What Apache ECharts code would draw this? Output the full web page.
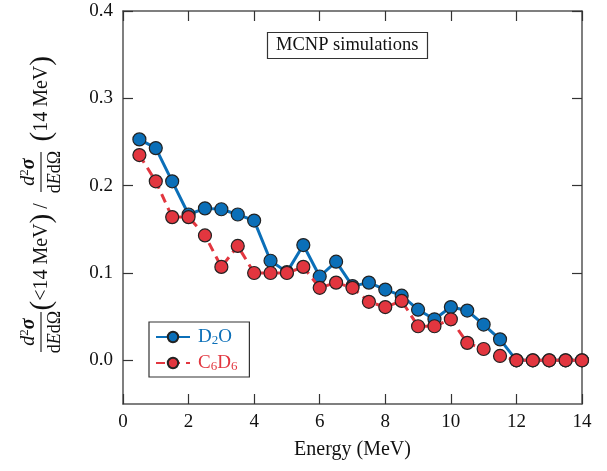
<!DOCTYPE html>
<html>
<head>
<meta charset="utf-8">
<script src="https://cdn.jsdelivr.net/npm/echarts@6/dist/echarts.min.js"></script>
<style>html,body{margin:0;padding:0;background:#fff;}#c{width:607px;height:471px;}</style>
</head>
<body>
<div id="c"></div>
<script>
const energy = [0.5,1,1.5,2,2.5,3,3.5,4,4.5,5,5.5,6,6.5,7,7.5,8,8.5,9,9.5,10,10.5,11,11.5,12,12.5,13,13.5,14];
const d2o = [0.253,0.243,0.205,0.167,0.174,0.173,0.167,0.160,0.114,0.101,0.132,0.096,0.113,0.085,0.089,0.081,0.074,0.058,0.047,0.061,0.057,0.041,0.024,0,0,0,0,0];
const c6d6 = [0.235,0.205,0.164,0.164,0.143,0.107,0.131,0.100,0.100,0.100,0.107,0.083,0.089,0.083,0.067,0.061,0.068,0.039,0.039,0.047,0.020,0.013,0.005,0,0,0,0,0];
const xTicks = [0,2,4,6,8,10,12,14];
const yTicks = [0,0.1,0.2,0.3,0.4];

const BLUE = '#0b6fb8', RED = '#e2363f';
const SERIF = 'Liberation Serif';
const chart = echarts.init(document.getElementById('c'));

function pts(ys){ return energy.map((x,i)=>[x, ys[i]]); }

const axisCommon = {
  axisLine:{show:true, onZero:false, lineStyle:{color:'#555', width:1.5}},
  axisTick:{show:true, inside:true, length:10, lineStyle:{color:'#333', width:1.2}},
  splitLine:{show:false}
};

const fracRich = {
  i:{fontFamily:SERIF, fontStyle:'italic', fontSize:20, fill:'#111', verticalAlign:'bottom', lineHeight:21},
  r:{fontFamily:SERIF, fontSize:18, fill:'#111', verticalAlign:'bottom', lineHeight:21},
  ie:{fontFamily:SERIF, fontStyle:'italic', fontSize:18, fill:'#111', verticalAlign:'bottom', lineHeight:21},
  p:{fontFamily:SERIF, fontSize:13, fill:'#111', verticalAlign:'top', lineHeight:13},
  g:{fontFamily:SERIF, fontStyle:'italic', fontWeight:'bold', fontSize:20, fill:'#111', verticalAlign:'bottom', lineHeight:21}
};
const parRich = {
  p:{fontFamily:SERIF, fontSize:29, fill:'#111', verticalAlign:'middle'},
  t:{fontFamily:SERIF, fontSize:20, fill:'#111', verticalAlign:'middle'}
};
function frac(cx, half){
  return [
    {type:'text', x:cx, y:-2, style:{text:'{i|d}{p|2}{g|σ}', rich:fracRich, align:'center', verticalAlign:'bottom'}},
    {type:'line', shape:{x1:cx-half, y1:0, x2:cx+half, y2:0}, style:{stroke:'#111', lineWidth:1.1}},
    {type:'text', x:cx, y:2, style:{text:'{r|d}{ie|E}{r|dΩ}', rich:fracRich, align:'center', verticalAlign:'top'}}
  ];
}

const option = {
  backgroundColor:'#fff',
  animation:false,
  grid:{left:123, right:25, top:11, bottom:67, containLabel:false},
  title:{
    text:'MCNP simulations', left:267, top:32,
    padding:[4,9,4,9], borderColor:'#333', borderWidth:1.2,
    textStyle:{fontFamily:SERIF, fontSize:18.5, fontWeight:'normal', color:'#111'}
  },
  legend:{
    orient:'vertical', left:149, top:322,
    padding:[6,12,4,6], itemGap:7, itemWidth:34, itemHeight:13,
    borderColor:'#333', borderWidth:1.2, backgroundColor:'#fff',
    data:[
      {name:'D2O', textStyle:{color:BLUE}},
      {name:'C6D6', textStyle:{color:RED}}
    ],
    formatter:function(n){
      if(n==='D2O') return '{a|D}{s|2}{a|O}';
      return '{a|C}{s|6}{a|D}{s|6}';
    },
    textStyle:{
      fontFamily:SERIF, fontSize:19, padding:[0,0,0,3],
      rich:{
        a:{fontFamily:SERIF, fontSize:19, lineHeight:20, verticalAlign:'bottom'},
        s:{fontFamily:SERIF, fontSize:13, lineHeight:12, verticalAlign:'bottom'}
      }
    }
  },
  xAxis:[
    Object.assign({}, axisCommon, {
      type:'value', min:0, max:14, interval:2, position:'bottom',
      name:'Energy (MeV)', nameLocation:'middle', nameGap:36,
      nameTextStyle:{fontFamily:SERIF, fontSize:20, color:'#111'},
      axisLabel:{fontFamily:SERIF, fontSize:19, color:'#111', margin:9, customValues:xTicks, formatter:v=>String(v)}
    }),
    Object.assign({}, axisCommon, {
      type:'value', min:0, max:14, interval:2, position:'top', axisLabel:{show:false}
    })
  ],
  yAxis:[
    Object.assign({}, axisCommon, {
      type:'value', min:-0.05, max:0.4, position:'left',
      axisTick:Object.assign({}, axisCommon.axisTick, {customValues:yTicks}),
      axisLabel:{fontFamily:SERIF, fontSize:19, color:'#111', margin:10, customValues:yTicks, formatter:v=>v.toFixed(1)}
    }),
    Object.assign({}, axisCommon, {
      type:'value', min:-0.05, max:0.4, position:'right',
      axisTick:Object.assign({}, axisCommon.axisTick, {customValues:yTicks}),
      axisLabel:{show:false}
    })
  ],
  graphic:[
    {
      type:'group', x:41, y:196.5, rotation:Math.PI/2,
      children: [].concat(
        frac(-135.5, 20),
        [{type:'text', x:-114, y:1, style:{text:'{p|(}{t|<14 MeV}{p|)}{t| / }', rich:parRich, align:'left', verticalAlign:'middle'}}],
        frac(24.5, 20),
        [{type:'text', x:55, y:1, style:{text:'{p|(}{t|14 MeV}{p|)}', rich:parRich, align:'left', verticalAlign:'middle'}}]
      )
    }
  ],
  series:[
    {
      name:'D2O', type:'line', data:pts(d2o), xAxisIndex:0, yAxisIndex:0,
      symbol:'circle', symbolSize:13, clip:false,
      lineStyle:{color:BLUE, width:3},
      itemStyle:{color:BLUE, borderColor:'#222', borderWidth:1.2},
      z:2
    },
    {
      name:'C6D6', type:'line', data:pts(c6d6), xAxisIndex:0, yAxisIndex:0,
      symbol:'circle', symbolSize:13, clip:false,
      lineStyle:{color:RED, width:3, type:[9,6]},
      itemStyle:{color:RED, borderColor:'#222', borderWidth:1.2},
      z:3
    }
  ]
};
chart.setOption(option);
</script>
</body>
</html>
